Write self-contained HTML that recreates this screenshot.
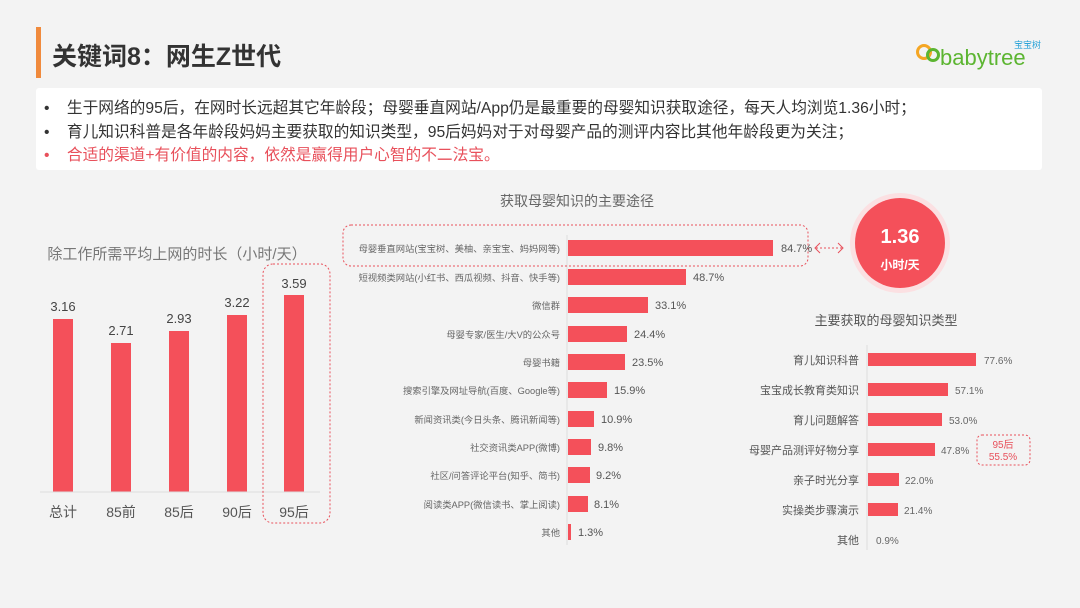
<!DOCTYPE html>
<html><head><meta charset="utf-8"><style>
body{margin:0;width:1080px;height:608px;background:#f3f3f3;font-family:"Liberation Sans","Noto Sans CJK SC",sans-serif;position:relative;overflow:hidden}
.a{position:absolute}
</style></head><body>
<div class="a" style="left:36px;top:27px;width:5px;height:51px;background:#f08a3c"></div>
<div class="a" style="left:52px;top:37px;font-size:25px;font-weight:bold;color:#333">关键词8：网生Z世代</div>
<div class="a" style="left:916px;top:44px;width:16px;height:16px;border:3px solid #f5a623;border-radius:50%;box-sizing:border-box"></div>
<div class="a" style="left:926px;top:48px;width:14px;height:14px;border:3px solid #5cb531;border-radius:50%;box-sizing:border-box"></div>
<div class="a" style="left:1014px;top:38px;font-size:9px;color:#2aa3d8">宝宝树</div>
<div class="a" style="left:940px;top:45px;font-size:22px;color:#5cb531;letter-spacing:0px">babytree</div>
<div class="a" style="left:36px;top:88px;width:1006px;height:82px;background:#fff;border-radius:3px"></div>
<div class="a" style="left:44px;top:97px;font-size:15.7px;line-height:23.5px;color:#333;white-space:nowrap">
<div>•&nbsp;&nbsp;&nbsp;&nbsp;生于网络的95后，在网时长远超其它年龄段；母婴垂直网站/App仍是最重要的母婴知识获取途径，每天人均浏览1.36小时；</div>
<div>•&nbsp;&nbsp;&nbsp;&nbsp;育儿知识科普是各年龄段妈妈主要获取的知识类型，95后妈妈对于对母婴产品的测评内容比其他年龄段更为关注；</div>
<div style="color:#e8505b">•&nbsp;&nbsp;&nbsp;&nbsp;合适的渠道+有价值的内容，依然是赢得用户心智的不二法宝。</div>
</div>
<svg class="a" style="left:0;top:0" width="1080" height="608" font-family="Liberation Sans, Noto Sans CJK SC, sans-serif">
<text x="177" y="259" font-size="15" fill="#777" text-anchor="middle">除工作所需平均上网的时长（小时/天）</text>
<g fill="#f4505a">
<rect x="53" y="319" width="20" height="173"/><rect x="111" y="343" width="20" height="149"/><rect x="169" y="331" width="20" height="161"/><rect x="227" y="315" width="20" height="177"/><rect x="284" y="295" width="20" height="197"/></g>
<g font-size="13" fill="#444" text-anchor="middle">
<text x="63" y="311">3.16</text><text x="121" y="335">2.71</text><text x="179" y="323">2.93</text><text x="237" y="307">3.22</text><text x="294" y="288">3.59</text></g>
<line x1="40" y1="492" x2="320" y2="492" stroke="#ddd"/>
<g font-size="14" fill="#555" text-anchor="middle">
<text x="63" y="517">总计</text><text x="121" y="517">85前</text><text x="179" y="517">85后</text><text x="237" y="517">90后</text><text x="294" y="517">95后</text></g>
<rect x="263" y="264" width="67" height="259" rx="10" fill="none" stroke="#e8505b" stroke-dasharray="2,2"/>
<text x="577" y="206" font-size="14" fill="#666" text-anchor="middle">获取母婴知识的主要途径</text>
<line x1="567" y1="235" x2="567" y2="545" stroke="#ddd"/>
<rect x="343" y="225" width="465" height="41" rx="8" fill="none" stroke="#e8505b" stroke-dasharray="2,2"/>
<g fill="#f4505a">
<rect x="568" y="240" width="205" height="16"/><rect x="568" y="269" width="118" height="16"/><rect x="568" y="297" width="80" height="16"/><rect x="568" y="326" width="59" height="16"/><rect x="568" y="354" width="57" height="16"/><rect x="568" y="382" width="39" height="16"/><rect x="568" y="411" width="26" height="16"/><rect x="568" y="439" width="23" height="16"/><rect x="568" y="467" width="22" height="16"/><rect x="568" y="496" width="20" height="16"/><rect x="568" y="524" width="3" height="16"/></g>
<g font-size="9.3" fill="#666" text-anchor="end">
<text x="560" y="252">母婴垂直网站(宝宝树、美柚、亲宝宝、妈妈网等)</text><text x="560" y="281">短视频类网站(小红书、西瓜视频、抖音、快手等)</text><text x="560" y="309">微信群</text><text x="560" y="338">母婴专家/医生/大V的公众号</text><text x="560" y="366">母婴书籍</text><text x="560" y="394">搜索引擎及网址导航(百度、Google等)</text><text x="560" y="423">新闻资讯类(今日头条、腾讯新闻等)</text><text x="560" y="451">社交资讯类APP(微博)</text><text x="560" y="479">社区/问答评论平台(知乎、简书)</text><text x="560" y="508">阅读类APP(微信读书、掌上阅读)</text><text x="560" y="536">其他</text></g>
<g font-size="11" fill="#555">
<text x="781" y="252">84.7%</text><text x="693" y="281">48.7%</text><text x="655" y="309">33.1%</text><text x="634" y="338">24.4%</text><text x="632" y="366">23.5%</text><text x="614" y="394">15.9%</text><text x="601" y="423">10.9%</text><text x="598" y="451">9.8%</text><text x="596" y="479">9.2%</text><text x="594" y="508">8.1%</text><text x="578" y="536">1.3%</text></g>
<line x1="816" y1="248" x2="842" y2="248" stroke="#e8505b" stroke-dasharray="2,2"/>
<polyline points="820,243 815,248 820,253" fill="none" stroke="#e8505b"/><polyline points="838,243 843,248 838,253" fill="none" stroke="#e8505b"/>
<circle cx="900" cy="243" r="50" fill="#fbe0e2"/>
<circle cx="900" cy="243" r="45" fill="#f4505a"/>
<text x="900" y="243" font-size="20" font-weight="bold" fill="#fff" text-anchor="middle">1.36</text>
<text x="900" y="269" font-size="12" font-weight="bold" fill="#fff" text-anchor="middle">小时/天</text>
<text x="886" y="325" font-size="13" fill="#555" text-anchor="middle">主要获取的母婴知识类型</text>
<line x1="867" y1="345" x2="867" y2="550" stroke="#ddd"/>
<g fill="#f4505a">
<rect x="868" y="353" width="108" height="13"/><rect x="868" y="383" width="80" height="13"/><rect x="868" y="413" width="74" height="13"/><rect x="868" y="443" width="67" height="13"/><rect x="868" y="473" width="31" height="13"/><rect x="868" y="503" width="30" height="13"/></g>
<g font-size="11" fill="#555" text-anchor="end">
<text x="859" y="364">育儿知识科普</text><text x="859" y="394">宝宝成长教育类知识</text><text x="859" y="424">育儿问题解答</text><text x="859" y="454">母婴产品测评好物分享</text><text x="859" y="484">亲子时光分享</text><text x="859" y="514">实操类步骤演示</text><text x="859" y="544">其他</text></g>
<g font-size="10" fill="#666">
<text x="984" y="364">77.6%</text><text x="955" y="394">57.1%</text><text x="949" y="424">53.0%</text><text x="941" y="454">47.8%</text><text x="905" y="484">22.0%</text><text x="904" y="514">21.4%</text><text x="876" y="544">0.9%</text></g>
<rect x="977" y="435" width="53" height="30" rx="5" fill="none" stroke="#e8505b" stroke-dasharray="2,2"/>
<text x="1003" y="448" font-size="10" fill="#e8505b" text-anchor="middle">95后</text>
<text x="1003" y="460" font-size="10" fill="#e8505b" text-anchor="middle">55.5%</text>
</svg>
</body></html>
